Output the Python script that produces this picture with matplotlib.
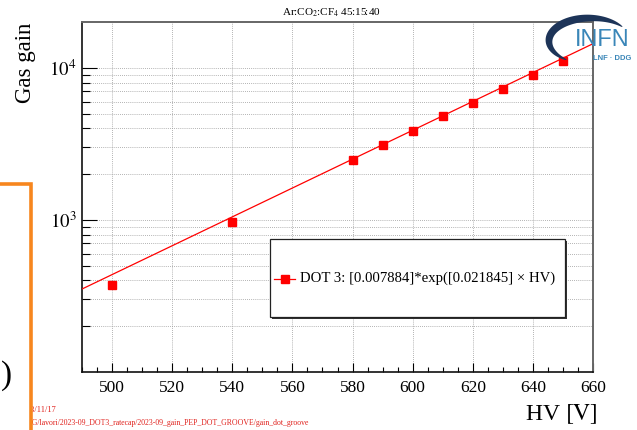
import numpy as np
import matplotlib
matplotlib.use("Agg")
import matplotlib.pyplot as plt
from matplotlib.patches import Rectangle, Polygon
from matplotlib.lines import Line2D
from matplotlib.ticker import FixedLocator, NullFormatter

plt.rcParams["font.family"] = ["Liberation Serif", "DejaVu Serif"]
plt.rcParams["mathtext.fontset"] = "stix"

# gain scan, DOT 3, Ar:CO2:CF4 45:15:40
hv = [500, 540, 580, 590, 600, 610, 620, 630, 640, 650]
gain = [376, 975, 2470, 3090, 3840, 4790, 5900, 7210, 8900, 11100]
fit_p0 = 0.007884
fit_p1 = 0.021845
fit_range = [490, 660]
ylabels = ["$10^{3}$", "$10^{4}$"]

W, H = 637, 430
fig = plt.figure(figsize=(W / 100, H / 100), dpi=100)
fig.patch.set_facecolor("white")


def fx(x):
    return x / W


def fy(y):
    return 1 - y / H


ax = fig.add_axes([fx(82), fy(372), fx(593) - fx(82), fy(22) - fy(372)])
ax.set_xlim(490, 660)
ax.set_yscale("log")
ax.set_ylim(100, 20000)

# grid (ROOT style dotted)
ax.set_xticks(np.arange(500, 661, 20))
ax.xaxis.set_minor_locator(FixedLocator(np.arange(490, 661, 5)))
ax.yaxis.set_major_locator(FixedLocator([1e3, 1e4]))
ax.set_yticklabels(ylabels)
minors = [k * 10 ** d for d in (2, 3) for k in range(2, 10)]
ax.yaxis.set_minor_locator(FixedLocator(minors))
ax.yaxis.set_minor_formatter(NullFormatter())
ax.grid(True, axis="x", which="major", color="#9a9a9a", lw=0.6, ls=(0, (1, 1.5)))
ax.grid(True, axis="y", which="both", color="#9a9a9a", lw=0.6, ls=(0, (1, 1.5)))
ax.set_axisbelow(True)

ax.tick_params(axis="x", which="major", direction="in", length=6.5, width=0.8,
               labelsize=12.5, pad=6, top=False)
ax.tick_params(axis="x", which="minor", direction="in", length=3.6, width=0.8, top=False)
ax.tick_params(axis="y", which="major", direction="in", length=10.8, width=0.8,
               labelsize=13.5, pad=4, right=False)
ax.tick_params(axis="y", which="minor", direction="in", length=5.8, width=0.8, right=False)
for side in ("left", "bottom"):
    ax.spines[side].set_color("#111111")
    ax.spines[side].set_linewidth(1.2)
for side in ("top", "right"):
    ax.spines[side].set_color("#666666")
    ax.spines[side].set_linewidth(1.4)

# fit function and data
xf = np.array(fit_range, dtype=float)
ax.plot(xf, fit_p0 * np.exp(fit_p1 * xf), color="#ff0000", lw=0.9, zorder=3)
ax.plot(hv, gain, ls="none", marker="s", ms=5.6, color="#ff0000", mec="#ff0000", zorder=4)

# axis titles
fig.text(fx(26), fy(23), "Gas gain", rotation=90, ha="center", va="top", fontsize=16.5)
fig.text(fx(598), fy(414), "HV $\\left[\\mathrm{V}\\right]$", ha="right", va="center", fontsize=17)
fig.text(fx(331), fy(13), "Ar:CO$_2$:CF$_4$ 45:15:40", ha="center", va="center", fontsize=8)

# legend box with shadow
lx0, ly0, lx1, ly1 = 270, 239, 565, 317
fig.patches.append(Rectangle((fx(lx0 + 2), fy(ly1 + 2)), fx(lx1) - fx(lx0), fy(ly0) - fy(ly1),
                             transform=fig.transFigure, facecolor="#333333", edgecolor="none", zorder=5))
fig.patches.append(Rectangle((fx(lx0), fy(ly1)), fx(lx1) - fx(lx0), fy(ly0) - fy(ly1),
                             transform=fig.transFigure, facecolor="white", edgecolor="#222222",
                             lw=0.9, zorder=6))
fig.lines.append(Line2D([fx(274), fx(295)], [fy(279), fy(279)], transform=fig.transFigure,
                        color="#ff0000", lw=0.9, marker="None", zorder=7))
fig.lines.append(Line2D([fx(284.5)], [fy(279)], transform=fig.transFigure, ls="none",
                        marker="s", ms=5.6, color="#ff0000", zorder=8))
fig.text(fx(300), fy(278), "DOT 3: [0.007884]*exp([0.021845] × HV)", ha="left",
         va="center", fontsize=10.6, zorder=8)

# INFN logo (approximate)
th = np.radians(np.linspace(38, 235, 140))
wid = 7.5 * np.sin(np.pi * (th - th[0]) / (th[-1] - th[0])) ** 0.7 + 0.5
cx, cy, a, b = 590, 41, 41, 23
outer = [(fx(cx + (a + w / 2) * np.cos(t)), fy(cy - (b + w / 2) * np.sin(t))) for t, w in zip(th, wid)]
inner = [(fx(cx + (a - w / 2) * np.cos(t)), fy(cy - (b - w / 2) * np.sin(t))) for t, w in zip(th, wid)]
fig.patches.append(Polygon(outer + inner[::-1], closed=True, transform=fig.transFigure,
                           facecolor="#1d3458", edgecolor="none", zorder=9))
fig.text(fx(602), fy(40), "INFN", ha="center", va="center", fontsize=17, color="#3a86b8",
         family=["Liberation Sans Narrow", "Liberation Sans"], zorder=10)
fig.text(fx(612), fy(59), "LNF · DDG", ha="center", va="center", fontsize=5.5, color="#3a86b8",
         family=["Liberation Sans Narrow", "Liberation Sans"], weight="bold", zorder=10)

# leftovers of the slide around the plot
fig.text(fx(27), fy(410), "23/11/17", ha="left", va="center", fontsize=6, color="#e0201b")
fig.text(fx(27), fy(423),
         "OG/lavori/2023-09_DOT3_ratecap/2023-09_gain_PEP_DOT_GROOVE/gain_dot_groove",
         ha="left", va="center", fontsize=5.6, color="#e0201b")
fig.patches.append(Rectangle((0, 0), fx(30), fy(400), transform=fig.transFigure,
                             facecolor="white", edgecolor="none", zorder=11))
fig.text(fx(1), fy(376), ")", ha="left", va="center", fontsize=24, zorder=12)
fig.lines.append(Line2D([0, fx(31.3), fx(31.3)], [fy(184), fy(184), 0], transform=fig.transFigure,
                        color="#f7861e", lw=2.6, solid_joinstyle="miter", zorder=13))

fig.savefig("out.png", dpi=100)
